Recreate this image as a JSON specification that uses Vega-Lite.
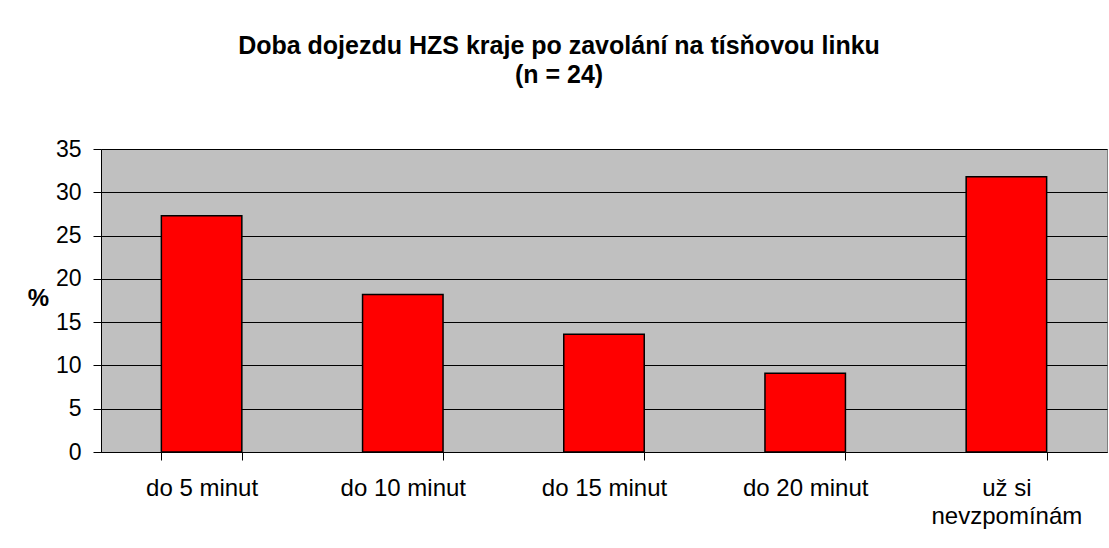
{
  "$schema": "https://vega.github.io/schema/vega-lite/v6.json",
  "autosize": "none",
  "width": 1006,
  "height": 303,
  "padding": {"left": 101, "top": 149, "right": 2, "bottom": 96},
  "background": "white",
  "title": {
    "text": ["Doba dojezdu HZS kraje po zavolání na tísňovou linku", "(n = 24)"],
    "font": "Liberation Sans",
    "fontSize": 25,
    "fontWeight": "bold",
    "color": "black",
    "anchor": "middle",
    "dx": -45,
    "offset": 50,
    "lineHeight": 29
  },
  "data": {
    "values": [
      {"kategorie": "do 5 minut", "procento": 27.3},
      {"kategorie": "do 10 minut", "procento": 18.2},
      {"kategorie": "do 15 minut", "procento": 13.6},
      {"kategorie": "do 20 minut", "procento": 9.1},
      {"kategorie": "už si nevzpomínám", "procento": 31.8}
    ]
  },
  "mark": {"type": "bar", "fill": "#FF0000", "stroke": "black", "strokeWidth": 1.5},
  "encoding": {
    "x": {
      "field": "kategorie",
      "type": "nominal",
      "sort": null,
      "scale": {"paddingInner": 0.6, "paddingOuter": 0.3},
      "axis": {
        "title": null,
        "labelAngle": 0,
        "labelFont": "Liberation Sans",
        "labelFontSize": 24,
        "labelColor": "black",
        "labelPadding": 16,
        "labelLineHeight": 28,
        "labelBaseline": "top",
        "tickBand": "extent",
        "tickSize": 8,
        "tickColor": "black",
        "domainColor": "black",
        "labelExpr": "datum.label == 'už si nevzpomínám' ? ['už si', 'nevzpomínám'] : datum.label"
      }
    },
    "y": {
      "field": "procento",
      "type": "quantitative",
      "scale": {"domain": [0, 35], "nice": false},
      "axis": {
        "values": [0, 5, 10, 15, 20, 25, 30, 35],
        "title": "%",
        "titleAngle": 0,
        "titleFont": "Liberation Sans",
        "titleFontSize": 24,
        "titleFontWeight": "bold",
        "titleColor": "black",
        "titleX": -63,
        "titleY": 161,
        "labelFont": "Liberation Sans",
        "labelFontSize": 23,
        "labelColor": "black",
        "labelPadding": 12,
        "tickSize": 8,
        "tickColor": "black",
        "domainColor": "black",
        "grid": true,
        "gridColor": "black",
        "gridOpacity": 1,
        "gridWidth": 1
      }
    }
  },
  "config": {
    "view": {"fill": "#C0C0C0", "stroke": "#808080", "strokeWidth": 1}
  }
}
